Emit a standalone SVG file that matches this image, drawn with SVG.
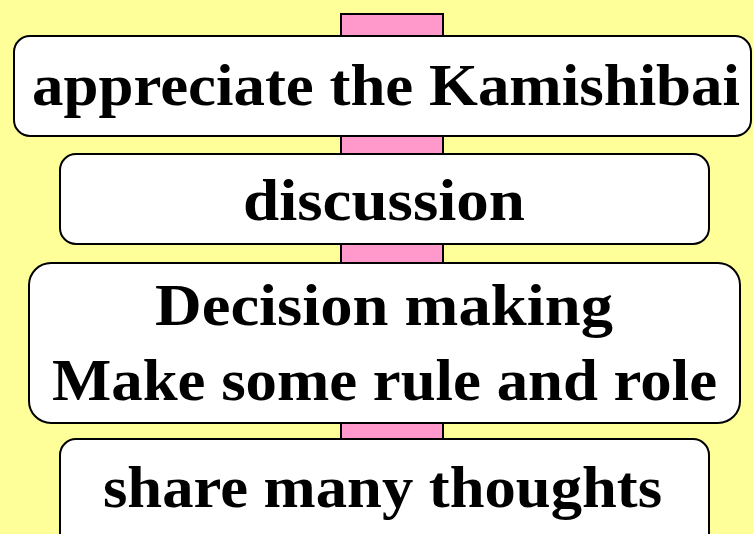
<svg xmlns="http://www.w3.org/2000/svg" width="753" height="534" viewBox="0 0 753 534">
<style>
.box{fill:#ffffff;stroke:#000000;stroke-width:2}
.bar{fill:#ff99cc;stroke:#000000;stroke-width:2}
.t{font-family:"Liberation Serif","Times New Roman",serif;font-weight:bold;font-size:60px;fill:#000000}
</style>
<rect x="0" y="0" width="753" height="534" fill="#ffff99"/>
<g id="connectors">
<rect class="bar" x="341" y="14" width="102" height="540"/>
</g>
<g id="node1">
<rect class="box" x="14" y="36" width="737" height="100" rx="16"/>
<text class="t" x="32" y="105" textLength="708" lengthAdjust="spacingAndGlyphs">appreciate the Kamishibai</text>
</g>
<g id="node2">
<rect class="box" x="60" y="154" width="649" height="90" rx="16"/>
<text class="t" x="243" y="220" textLength="282" lengthAdjust="spacingAndGlyphs">discussion</text>
</g>
<g id="node3">
<rect class="box" x="29" y="263" width="711" height="160" rx="22"/>
<text class="t" x="155" y="325" textLength="458" lengthAdjust="spacingAndGlyphs">Decision making</text>
<text class="t" x="52" y="400" textLength="665" lengthAdjust="spacingAndGlyphs">Make some rule and role</text>
</g>
<g id="node4">
<rect class="box" x="60" y="439" width="649" height="110" rx="16"/>
<text class="t" x="103" y="507" textLength="559" lengthAdjust="spacingAndGlyphs">share many thoughts</text>
</g>
</svg>
